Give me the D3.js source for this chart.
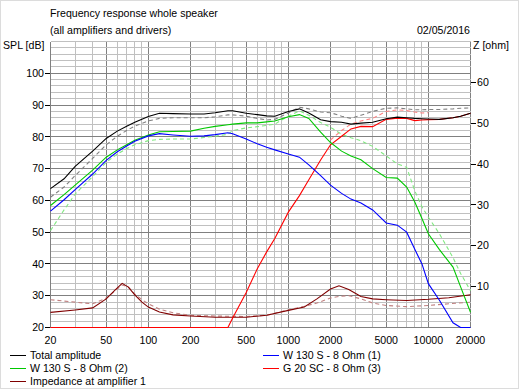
<!DOCTYPE html>
<html>
<head>
<meta charset="utf-8">
<script src="https://cdn.jsdelivr.net/npm/d3@7"></script>
<style>
  body { margin: 0; background: #fff; }
  svg { display: block; font-family: 'Liberation Sans', Arial, sans-serif; font-size: 10.6px; }
</style>
</head>
<body>
<svg width="519" height="389"></svg>
<script>
// Frequencies (Hz) for the SPL curves:
var freqs = [20, 25, 30, 40, 50, 60, 70, 80, 100, 120, 150, 200, 250, 300, 370, 400, 500, 600, 700, 800,
  1000, 1200, 1400, 1700, 2000, 2400, 2800, 3300, 4000, 5000, 6000, 7000, 8000, 9000, 10000, 12000, 15000, 17000, 20000];

// SPL values (dB):
var totalAmp = [63.7, 66.8, 70.7, 75.5, 79.5, 81.8, 83.3, 84.6, 86.4, 87.4, 87.3, 87.2, 87.2, 87.6, 88.2, 88.2, 87.4, 87.0, 86.6, 86.5,
  88.0, 88.8, 87.5, 85.4, 84.8, 84.6, 84.0, 84.3, 84.6, 85.7, 86.2, 86.0, 85.8, 85.7, 85.6, 85.5, 86.0, 86.5, 87.4];
var totalRef = [61.0, 64.2, 67.8, 73.2, 77.5, 80.2, 82.0, 83.4, 85.0, 85.8, 86.0, 86.0, 86.0, 86.3, 86.9, 86.9, 86.5, 85.8, 85.3, 85.5,
  87.5, 89.3, 88.8, 87.8, 87.6, 86.5, 85.8, 86.8, 88.0, 89.0, 89.1, 88.8, 88.5, 88.5, 88.6, 88.6, 88.8, 89.0, 89.1];
var woofer1 = [56.6, 60.2, 63.4, 68.3, 72.6, 75.3, 77.1, 78.6, 80.3, 81.0, 80.6, 80.2, 80.3, 80.7, 81.3, 81.0, 79.3, 77.8, 76.7, 75.9,
  74.6, 73.6, 71.2, 67.8, 64.8, 62.2, 60.4, 59.2, 57.0, 52.9, 52.2, 50.0, 44.6, 40.0, 33.8, 28.6, 21.5, 20, 20];
var woofer2 = [58.4, 61.8, 64.8, 69.5, 73.6, 75.9, 77.5, 78.9, 80.6, 81.6, 81.7, 81.8, 82.7, 83.3, 83.8, 84.0, 84.4, 84.4, 84.7, 85.0,
  86.3, 87.0, 85.8, 81.5, 78.2, 75.5, 74.0, 72.8, 70.0, 67.2, 67.0, 64.2, 59.5, 54.3, 49.5, 44.5, 39.0, 32.8, 24.8];
var woofer2Ref = [50.5, 57.0, 62.0, 67.5, 72.0, 74.6, 76.3, 77.5, 78.8, 79.2, 79.3, 79.3, 79.8, 80.2, 80.8, 82.0, 82.8, 83.2, 83.6, 84.0,
  86.5, 88.2, 86.8, 84.5, 83.0, 80.8, 79.7, 78.8, 77.0, 74.0, 71.5, 70.4, 63.0, 58.0, 54.7, 49.5, 42.0, 37.0, 31.6];
var tweeter = [20, 20, 20, 20, 20, 20, 20, 20, 20, 20, 20, 20, 20, 20, 20, 23.0, 31.0, 38.5, 43.8, 48.0,
  56.3, 61.5, 66.5, 72.7, 77.5, 80.2, 82.5, 83.3, 83.2, 85.5, 85.9, 85.8, 85.1, 85.3, 85.4, 85.5, 86.0, 86.5, 87.4];
var tweeterRef = [null, null, null, null, null, null, null, null, null, null, null, null, null, null, null, null, null, null, null, null,
  null, null, null, null, 79.0, 82.0, 84.0, 85.0, 85.8, 88.0, 88.5, 88.3, 87.8, 87.5, 87.6, null, null, null, null];

// Frequencies (Hz) and impedance values (ohm):
var impFreqs = [20, 30, 40, 50, 58, 65, 72, 80, 90, 100, 120, 150, 200, 300, 500, 700, 1000, 1300, 1600, 2000,
  2300, 2700, 3300, 4000, 5000, 7000, 10000, 14000, 20000];
var impedance = [3.7, 4.3, 4.8, 7.0, 9.2, 10.8, 9.9, 8.0, 6.2, 5.0, 3.8, 3.1, 2.8, 2.5, 2.5, 3.0, 4.2, 5.0, 7.0, 9.4,
  10.2, 9.3, 7.6, 7.0, 6.8, 6.6, 6.9, 7.3, 8.0];
var impedanceRef = [6.8, 6.2, 5.8, 7.2, 9.0, 10.4, 9.9, 8.2, 6.8, 5.8, 4.5, 3.6, 3.0, 2.8, 2.7, 3.0, 4.3, 5.2, 6.0, 7.2,
  7.6, 7.8, 7.0, 6.0, 5.4, 5.1, 5.4, 5.8, 6.2];

// Tick labels:
var xTicks = [20, 50, 100, 200, 500, 1000, 2000, 5000, 10000, 20000];
var splTicks = [20, 30, 40, 50, 60, 70, 80, 90, 100];
var zTicks = [10, 20, 30, 40, 50, 60];

var svg = d3.select('svg');

// Plot area:
var plot = { left: 50, right: 470, top: 41, bottom: 327 };

var x = d3.scaleLog().domain([20, 20000]).range([plot.left + 0.5, plot.right + 0.5]);
var ySpl = d3.scaleLinear().domain([20, 110]).range([plot.bottom + 0.5, plot.top + 0.5]);
var yZ = d3.scaleLinear().domain([0, 70]).range([plot.bottom + 0.5, plot.top + 0.5]);

// Snap to pixel centres for the grid:
function px(v) { return Math.round(v - 0.5) + 0.5; }

// Window border:
svg.append('rect')
  .attr('x', 0.5).attr('y', 0.5)
  .attr('width', 518).attr('height', 388)
  .attr('fill', '#fff')
  .attr('stroke', '#dcdcdc');

var grid = svg.append('g').attr('shape-rendering', 'crispEdges');

// Vertical grid: 1..9 per decade, darker at 1, 2, 5:
var vLines = [];
[10, 100, 1000, 10000].forEach(function (dec) {
  for (var m = 1; m <= 9; m++) {
    var f = dec * m;
    if (f >= 20 && f <= 20000) vLines.push({ f: f, major: (m === 1 || m === 2 || m === 5) });
  }
});
vLines.sort(function (a, b) { return a.major - b.major; });
grid.selectAll('.vline')
  .data(vLines)
  .enter().append('line')
  .attr('x1', function (d) { return px(x(d.f)); })
  .attr('x2', function (d) { return px(x(d.f)); })
  .attr('y1', plot.top + 0.5)
  .attr('y2', plot.bottom + 0.5)
  .attr('stroke', function (d) { return d.major ? '#808080' : '#c0c0c0'; });

// Horizontal grid: every 2 dB, darker every 10 dB:
var hLines = d3.range(20, 111, 2).map(function (v) { return { v: v, major: v % 10 === 0 && v < 110 }; });
hLines.sort(function (a, b) { return a.major - b.major; });
grid.selectAll('.hline')
  .data(hLines)
  .enter().append('line')
  .attr('x1', plot.left + 0.5)
  .attr('x2', plot.right + 0.5)
  .attr('y1', function (d) { return px(ySpl(d.v)); })
  .attr('y2', function (d) { return px(ySpl(d.v)); })
  .attr('stroke', function (d) { return d.major ? '#808080' : '#c0c0c0'; });

// Left frame:
grid.append('line')
  .attr('x1', plot.left + 0.5).attr('x2', plot.left + 0.5)
  .attr('y1', plot.top + 0.5).attr('y2', plot.bottom + 0.5)
  .attr('stroke', '#808080');

// Left tick marks and labels:
var left = svg.append('g').attr('shape-rendering', 'crispEdges');
left.selectAll('line')
  .data(splTicks)
  .enter().append('line')
  .attr('x1', plot.left - 5).attr('x2', plot.left)
  .attr('y1', function (d) { return px(ySpl(d)); })
  .attr('y2', function (d) { return px(ySpl(d)); })
  .attr('stroke', '#000');
svg.append('g').selectAll('text')
  .data(splTicks)
  .enter().append('text')
  .attr('x', plot.left - 6)
  .attr('y', function (d) { return ySpl(d); })
  .attr('dy', '0.35em')
  .attr('text-anchor', 'end')
  .text(function (d) { return d; });

// Right tick marks and labels:
var right = svg.append('g').attr('shape-rendering', 'crispEdges');
right.selectAll('line')
  .data(zTicks)
  .enter().append('line')
  .attr('x1', plot.right + 1).attr('x2', plot.right + 6)
  .attr('y1', function (d) { return px(yZ(d)); })
  .attr('y2', function (d) { return px(yZ(d)); })
  .attr('stroke', '#000');
svg.append('g').selectAll('text')
  .data(zTicks)
  .enter().append('text')
  .attr('x', plot.right + 7)
  .attr('y', function (d) { return yZ(d); })
  .attr('dy', '0.35em')
  .text(function (d) { return d; });

// Frequency labels:
svg.append('g').selectAll('text')
  .data(xTicks)
  .enter().append('text')
  .attr('x', function (d) { return x(d); })
  .attr('y', 344)
  .attr('text-anchor', 'middle')
  .text(function (d) { return d; });

// Titles:
svg.append('text').attr('x', 50).attr('y', 17).text('Frequency response whole speaker');
svg.append('text').attr('x', 50).attr('y', 34).text('(all amplifiers and drivers)');
svg.append('text').attr('x', 470).attr('y', 34).attr('text-anchor', 'end').text('02/05/2016');
svg.append('text').attr('x', 3).attr('y', 49).text('SPL [dB]');
svg.append('text').attr('x', 473).attr('y', 49).text('Z [ohm]');

// Curves:
svg.append('defs').append('clipPath')
  .attr('id', 'clip')
  .append('rect')
  .attr('x', plot.left).attr('y', plot.top)
  .attr('width', plot.right - plot.left + 1)
  .attr('height', plot.bottom - plot.top + 1);

var curves = svg.append('g').attr('clip-path', 'url(#clip)');

var lineSpl = d3.line()
  .defined(function (d) { return d[1] != null; })
  .x(function (d) { return x(d[0]); })
  .y(function (d) { return ySpl(d[1]); });

var lineZ = d3.line()
  .x(function (d) { return x(d[0]); })
  .y(function (d) { return yZ(d[1]); });

function pairs(fs, vs) { return fs.map(function (f, i) { return [f, vs[i]]; }); }

var series = [
  { d: lineZ(pairs(impFreqs, impedanceRef)), color: '#c08080', dash: '4,3' },
  { d: lineSpl(pairs(freqs, woofer2Ref)), color: '#80e880', dash: '4,3' },
  { d: lineSpl(pairs(freqs, tweeterRef)), color: '#ff8080', dash: '4,3' },
  { d: lineSpl(pairs(freqs, totalRef)), color: '#808080', dash: '4,3' },
  { d: lineZ(pairs(impFreqs, impedance)), color: '#800000', dash: null },
  { d: lineSpl(pairs(freqs, tweeter)), color: '#ff0000', dash: null },
  { d: lineSpl(pairs(freqs, woofer2)), color: '#00c800', dash: null },
  { d: lineSpl(pairs(freqs, woofer1)), color: '#0000ff', dash: null },
  { d: lineSpl(pairs(freqs, totalAmp)), color: '#000000', dash: null }
];

curves.selectAll('path')
  .data(series)
  .enter().append('path')
  .attr('d', function (d) { return d.d; })
  .attr('fill', 'none')
  .attr('stroke', function (d) { return d.color; })
  .attr('stroke-width', 1.1)
  .attr('stroke-dasharray', function (d) { return d.dash; });

// Legend:
var legend = [
  { name: 'Total amplitude', color: '#000000', col: 0, row: 0 },
  { name: 'W 130 S - 8 Ohm (1)', color: '#0000ff', col: 1, row: 0 },
  { name: 'W 130 S - 8 Ohm (2)', color: '#00c800', col: 0, row: 1 },
  { name: 'G 20 SC - 8 Ohm (3)', color: '#ff0000', col: 1, row: 1 },
  { name: 'Impedance at amplifier 1', color: '#800000', col: 0, row: 2 }
];

var items = svg.append('g').selectAll('g')
  .data(legend)
  .enter().append('g')
  .attr('transform', function (d) { return 'translate(' + (d.col ? 263 : 10) + ',' + (355 + d.row * 13) + ')'; });
items.append('line')
  .attr('x1', 0).attr('x2', 16)
  .attr('y1', 0.5).attr('y2', 0.5)
  .attr('shape-rendering', 'crispEdges')
  .attr('stroke', function (d) { return d.color; });
items.append('text')
  .attr('x', 20)
  .attr('y', 0)
  .attr('dy', '0.35em')
  .text(function (d) { return d.name; });
</script>
</body>
</html>
